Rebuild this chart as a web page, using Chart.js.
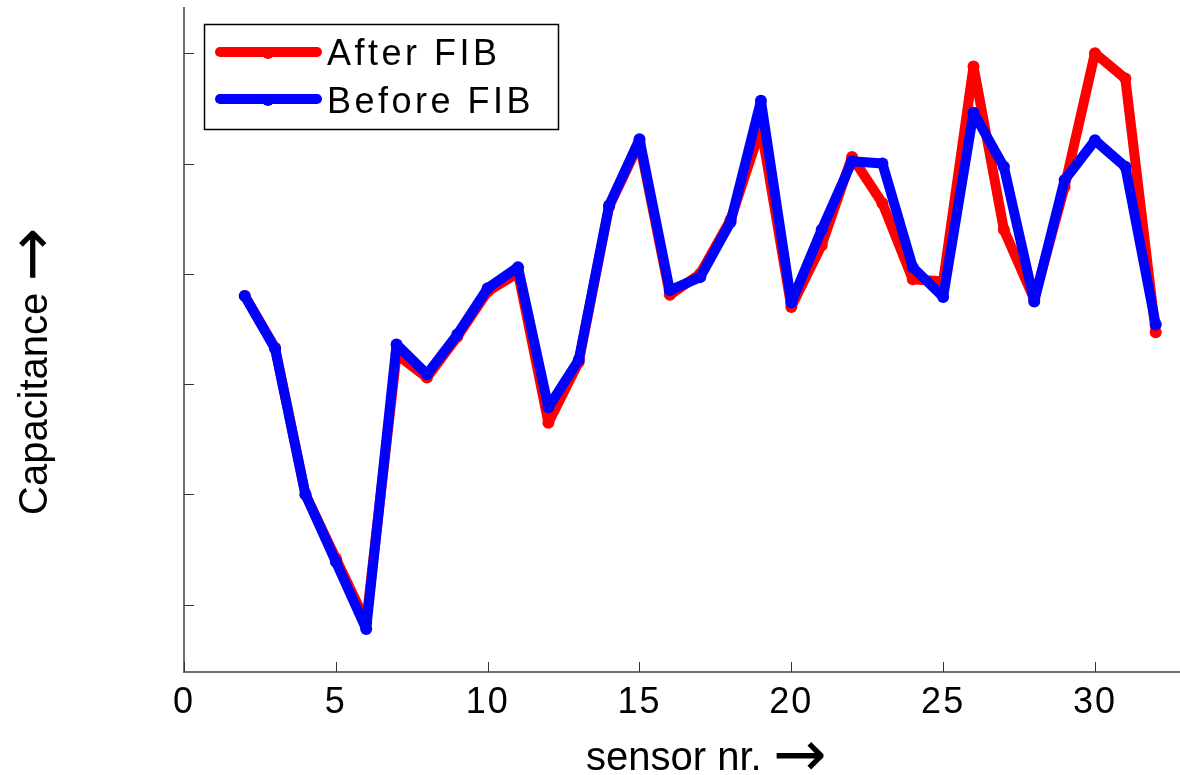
<!DOCTYPE html>
<html>
<head>
<meta charset="utf-8">
<script src="https://cdn.jsdelivr.net/npm/chart.js@4.4.1/dist/chart.umd.min.js"></script>
<style>
html, body { margin: 0; padding: 0; background: #fff; }
canvas { display: block; }
</style>
</head>
<body>
<canvas id="capChart" width="1180" height="775"></canvas>
<script>
// Data
const sensors = [2, 3, 4, 5, 6, 7, 8, 9, 10, 11, 12, 13, 14, 15, 16, 17, 18, 19, 20, 21, 22, 23, 24, 25, 26, 27, 28, 29, 30, 31, 32];
const afterFib = [3.80, 3.33, 2.00, 1.42, 0.84, 3.27, 3.06, 3.43, 3.84, 4.01, 2.65, 3.20, 4.61, 5.19, 3.81, 4.00, 4.49, 5.33, 3.70, 4.26, 5.06, 4.64, 3.95, 3.93, 5.88, 4.40, 3.77, 4.79, 6.00, 5.77, 3.47];
const beforeFib = [3.80, 3.32, 2.00, 1.39, 0.78, 3.36, 3.09, 3.45, 3.87, 4.06, 2.79, 3.22, 4.62, 5.22, 3.85, 3.97, 4.47, 5.57, 3.74, 4.40, 5.02, 5.00, 4.06, 3.79, 5.46, 4.97, 3.75, 4.85, 5.21, 4.97, 3.54];
const seriesLabels = ['After FIB', 'Before FIB'];
const seriesColors = ['#ff0000', '#0000ff'];
const xTicks = [0, 5, 10, 15, 20, 25, 30];
const yTicks = [1, 2, 3, 4, 5, 6];
const xTitle = 'sensor nr.';
const yTitle = 'Capacitance';
const arrow = '\u2192';

const FONT = '"Liberation Sans", Arial, Helvetica, sans-serif';
const ARROW_FONT = '"DejaVu Sans", sans-serif';

const toPoints = ys => sensors.map((x, i) => ({ x: x, y: ys[i] }));

// Spaced-out digits on the x axis like the original
const spacing = {
    id: 'spacing',
    beforeDraw(chart) { chart.ctx.letterSpacing = '2px'; },
    afterDatasetsDraw(chart) { chart.ctx.letterSpacing = '0px'; }
};

// Inward tick marks, like the original axes
const tickMarks = {
    id: 'tickMarks',
    beforeDatasetsDraw(chart) {
        const { ctx, chartArea, scales } = chart;
        ctx.save();
        ctx.strokeStyle = '#333';
        ctx.lineWidth = 1;
        ctx.beginPath();
        xTicks.forEach(v => {
            const px = Math.round(scales.x.getPixelForValue(v)) + 0.5;
            ctx.moveTo(px, chartArea.bottom);
            ctx.lineTo(px, chartArea.bottom - 10);
        });
        yTicks.forEach(v => {
            const py = Math.round(scales.y.getPixelForValue(v)) + 0.5;
            ctx.moveTo(chartArea.left, py);
            ctx.lineTo(chartArea.left + 10, py);
        });
        ctx.stroke();
        ctx.restore();
    }
};

// Axis titles, text plus a big arrow
const drawTitle = (ctx, text) => {
    ctx.font = '40px ' + FONT;
    ctx.fillText(text + ' ', 0, 0);
    const w = ctx.measureText(text + ' ').width;
    ctx.font = '64px ' + ARROW_FONT;
    ctx.fillText(arrow, w, 6);
};

const axisTitles = {
    id: 'axisTitles',
    afterDraw(chart) {
        const ctx = chart.ctx;
        ctx.save();
        ctx.letterSpacing = '0px';
        ctx.fillStyle = '#000';
        ctx.textAlign = 'left';
        ctx.textBaseline = 'alphabetic';
        ctx.save();
        ctx.translate(586, 770);
        drawTitle(ctx, xTitle);
        ctx.restore();
        ctx.save();
        ctx.translate(47, 515);
        ctx.rotate(-Math.PI / 2);
        drawTitle(ctx, yTitle);
        ctx.restore();
        ctx.restore();
    }
};

// Boxed legend in the top left corner
const boxLegend = {
    id: 'boxLegend',
    afterDraw(chart) {
        const ctx = chart.ctx;
        ctx.save();
        ctx.fillStyle = '#fff';
        ctx.fillRect(204, 24, 354, 105);
        ctx.strokeStyle = '#000';
        ctx.lineWidth = 1.5;
        ctx.strokeRect(204.5, 24.5, 354, 105);
        seriesLabels.forEach((label, i) => {
            const y = 52 + i * 47;
            ctx.strokeStyle = seriesColors[i];
            ctx.lineWidth = 10;
            ctx.lineCap = 'round';
            ctx.beginPath();
            ctx.moveTo(220, y);
            ctx.lineTo(317, y);
            ctx.stroke();
            ctx.fillStyle = seriesColors[i];
            ctx.beginPath();
            ctx.arc(268, y + 1, 6, 0, Math.PI * 2);
            ctx.fill();
            ctx.fillStyle = '#000';
            ctx.font = '36px ' + FONT;
            ctx.letterSpacing = '3.5px';
            ctx.textAlign = 'left';
            ctx.textBaseline = 'alphabetic';
            ctx.fillText(label, 327, 65 + i * 48);
            ctx.letterSpacing = '0px';
        });
        ctx.restore();
    }
};

const ctx = document.getElementById('capChart').getContext('2d');
new Chart(ctx, {
    type: 'line',
    data: {
        datasets: [
            {
                label: seriesLabels[0],
                data: toPoints(afterFib),
                borderColor: seriesColors[0],
                backgroundColor: seriesColors[0],
                borderWidth: 10,
                pointRadius: 6,
                pointBorderWidth: 0,
                borderJoinStyle: 'round',
                borderCapStyle: 'round',
                tension: 0,
                order: 2
            },
            {
                label: seriesLabels[1],
                data: toPoints(beforeFib),
                borderColor: seriesColors[1],
                backgroundColor: seriesColors[1],
                borderWidth: 10,
                pointRadius: 6,
                pointBorderWidth: 0,
                borderJoinStyle: 'round',
                borderCapStyle: 'round',
                tension: 0,
                order: 1
            }
        ]
    },
    options: {
        responsive: false,
        animation: false,
        devicePixelRatio: 1,
        layout: { autoPadding: false, padding: { top: 8, right: 0, left: 0, bottom: 0 } },
        plugins: {
            legend: { display: false },
            tooltip: { enabled: false }
        },
        scales: {
            x: {
                type: 'linear',
                min: 0,
                max: 32.8,
                afterBuildTicks: s => { s.ticks = xTicks.map(v => ({ value: v })); },
                afterFit: s => { s.height = 103; },
                grid: { display: false, drawTicks: false },
                border: { display: true, color: '#707070', width: 2 },
                ticks: {
                    color: '#000',
                    font: { family: FONT, size: 36 },
                    padding: 9,
                    maxRotation: 0,
                    autoSkip: false
                }
            },
            y: {
                type: 'linear',
                min: 0.39,
                max: 6.41,
                afterBuildTicks: s => { s.ticks = yTicks.map(v => ({ value: v })); },
                afterFit: s => { s.width = 184; },
                grid: { display: false, drawTicks: false },
                border: { display: true, color: '#707070', width: 2 },
                ticks: { display: false }
            }
        }
    },
    plugins: [spacing, tickMarks, axisTitles, boxLegend]
});
</script>
</body>
</html>
